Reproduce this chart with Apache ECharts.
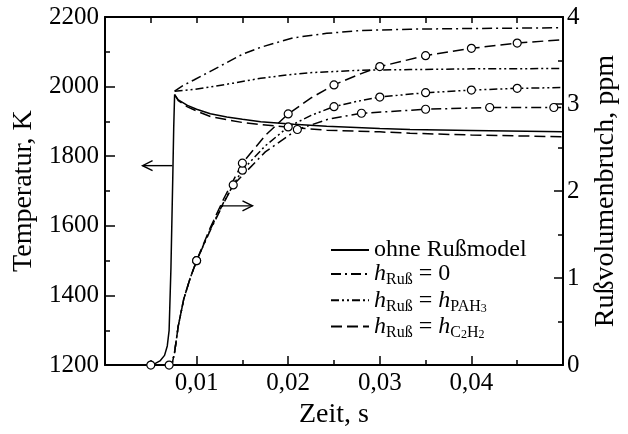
<!DOCTYPE html>
<html>
<head>
<meta charset="utf-8">
<script src="https://cdn.jsdelivr.net/npm/echarts@6/dist/echarts.min.js"></script>
<style>
  html, body { margin: 0; padding: 0; background: #fff; }
  #chart { width: 628px; height: 434px; }
</style>
</head>
<body>
<div id="chart"></div>
<script>
// Time in s, temperature in K (left axis), soot volume fraction in ppm (right axis)
const tempOhne = [
  [0, 1200], [0.0045, 1200], [0.005, 1202], [0.0055, 1205], [0.006, 1212], [0.0065, 1228],
  [0.0068, 1255], [0.007, 1300], [0.0072, 1480], [0.0074, 1740], [0.0075, 1880], [0.0076, 1977],
  [0.008, 1962], [0.009, 1946], [0.01, 1935], [0.0115, 1922], [0.0133, 1913], [0.015, 1906],
  [0.017, 1899], [0.0206, 1892], [0.0242, 1886], [0.03, 1880], [0.0333, 1877], [0.04, 1874], [0.05, 1870]
];
const tempH0 = [
  [0.0076, 1987], [0.0085, 2003], [0.0097, 2019], [0.0115, 2044], [0.0133, 2069], [0.015, 2093],
  [0.017, 2113], [0.0205, 2140], [0.0242, 2153], [0.0278, 2161], [0.0333, 2165], [0.04, 2167], [0.05, 2169]
];
const tempPAH = [
  [0.0076, 1987], [0.0097, 1992], [0.0115, 1999], [0.014, 2010], [0.017, 2024], [0.02, 2034],
  [0.0224, 2040], [0.0278, 2047], [0.0333, 2049], [0.04, 2051], [0.05, 2052]
];
const tempC2H2 = [
  [0.0076, 1977], [0.008, 1960], [0.009, 1942], [0.01, 1930], [0.0115, 1914], [0.0133, 1905],
  [0.015, 1897], [0.017, 1891], [0.0206, 1882], [0.0242, 1875], [0.03, 1870], [0.0333, 1866],
  [0.04, 1861], [0.05, 1856]
];

const sootH0 = [
  [0, 0], [0.007, 0], [0.0073, 0], [0.0076, 0.15], [0.008, 0.45], [0.0086, 0.76], [0.0093, 1.0],
  [0.01, 1.2], [0.0115, 1.55], [0.013, 1.87], [0.014, 2.07], [0.0175, 2.45], [0.021, 2.707],
  [0.0245, 2.83], [0.028, 2.894], [0.035, 2.94], [0.042, 2.96], [0.049, 2.96], [0.05, 2.96]
];
const sootPAH = [
  [0, 0], [0.005, 0], [0.0073, 0], [0.0076, 0.15], [0.008, 0.45], [0.0086, 0.76], [0.0093, 1.0],
  [0.01, 1.2], [0.0115, 1.56], [0.013, 1.88], [0.014, 2.07], [0.015, 2.24], [0.0175, 2.52],
  [0.02, 2.737], [0.0225, 2.87], [0.025, 2.97], [0.0275, 3.03], [0.03, 3.08], [0.035, 3.13],
  [0.04, 3.16], [0.045, 3.18], [0.05, 3.19]
];
const sootC2H2 = [
  [0, 0], [0.0073, 0], [0.0076, 0.15], [0.008, 0.45], [0.0086, 0.76], [0.0093, 1.0], [0.01, 1.2],
  [0.0115, 1.58], [0.013, 1.92], [0.014, 2.12], [0.015, 2.32], [0.0175, 2.64], [0.02, 2.886],
  [0.0225, 3.07], [0.025, 3.22], [0.0275, 3.33], [0.03, 3.43], [0.035, 3.556], [0.04, 3.64],
  [0.045, 3.70], [0.05, 3.74]
];

// times at which the soot curves carry an open circle
const marksH0 = [0.007, 0.014, 0.021, 0.028, 0.035, 0.042, 0.049];
const marksPAH = [0.005, 0.01, 0.015, 0.02, 0.025, 0.03, 0.035, 0.04, 0.045];
const marksC2H2 = [0.01, 0.015, 0.02, 0.025, 0.03, 0.035, 0.04, 0.045];

// axis-direction arrows: [x from, y from, x to, y to]
const arrowTemp = [[0.00736, 1773, 0.0041, 1773]];
const arrowSoot = [[0.0126, 1.83, 0.0161, 1.83]];

const names = ['ohne Rußmodel', 'h_Ruß = 0', 'h_Ruß = h_PAH3', 'h_Ruß = h_C2H2'];
const legendRich = {
  'ohne Rußmodel': '{n|ohne Rußmodel}',
  'h_Ruß = 0': '{it|h}{sub|Ruß}{n| = 0}',
  'h_Ruß = h_PAH3': '{it|h}{sub|Ruß}{n| = }{it|h}{sub|PAH}{sub2|3}',
  'h_Ruß = h_C2H2': '{it|h}{sub|Ruß}{n| = }{it|h}{sub|C}{sub2|2}{sub|H}{sub2|2}'
};

const FONT = '"Liberation Serif", "DejaVu Serif", serif';
const dashH0 = [10, 4, 2, 4];
const dashPAH = [8, 3, 2, 3, 2, 3];
const dashC2H2 = [11, 5];

function tempLine(name, data, type) {
  return {
    type: 'line', name, data, xAxisIndex: 0, yAxisIndex: 0,
    symbol: 'none', silent: true, z: 3,
    itemStyle: { color: '#000' },
    lineStyle: { color: '#000', width: 1.5, type }
  };
}
function sootLine(name, data, marks, type) {
  const items = data.map(p => marks.some(m => Math.abs(m - p[0]) < 1e-9)
    ? { value: p } : { value: p, symbol: 'none' });
  return {
    type: 'line', name, data: items, xAxisIndex: 0, yAxisIndex: 1,
    symbol: 'circle', symbolSize: 8, showSymbol: true, showAllSymbol: true, silent: true, z: 4,
    itemStyle: { color: '#fff', borderColor: '#000', borderWidth: 1.2 },
    lineStyle: { color: '#000', width: 1.5, type }
  };
}
function arrowSeries(data, yIdx) {
  return {
    type: 'custom', xAxisIndex: 0, yAxisIndex: yIdx, data, silent: true, z: 5,
    encode: { x: [0, 2], y: [1, 3] },
    renderItem(params, api) {
      const a = api.coord([api.value(0), api.value(1)]);
      const b = api.coord([api.value(2), api.value(3)]);
      const dir = Math.sign(b[0] - a[0]);
      const st = { stroke: '#000', lineWidth: 1.4, fill: null };
      return {
        type: 'group',
        children: [
          { type: 'line', shape: { x1: a[0], y1: a[1], x2: b[0], y2: b[1] }, style: st },
          { type: 'polyline', shape: { points: [[b[0] - dir * 10, b[1] - 5], [b[0], b[1]], [b[0] - dir * 10, b[1] + 5]] }, style: st }
        ]
      };
    }
  };
}

const axisCommon = {
  axisLine: { show: true, onZero: false, lineStyle: { color: '#000', width: 2 } },
  splitLine: { show: false },
  axisLabel: { color: '#000', fontFamily: FONT, fontSize: 25, formatter: v => String(v) },
  nameTextStyle: { color: '#000', fontFamily: FONT, fontSize: 28 }
};

const chart = echarts.init(document.getElementById('chart'), null, { renderer: 'canvas' });
chart.setOption({
  animation: false,
  backgroundColor: '#fff',
  grid: { left: 105, right: 64, top: 17, bottom: 59 },
  legend: {
    data: names, orient: 'vertical', left: 325, top: 233,
    itemWidth: 38, itemHeight: 14, itemGap: 0, itemTextGap: 13, selectedMode: false,
    itemStyle: { opacity: 0 },
    formatter: n => legendRich[n],
    textStyle: {
      color: '#000', fontFamily: FONT, fontSize: 24,
      rich: {
        n: { fontFamily: FONT, fontSize: 24, lineHeight: 28.5, color: '#000' },
        it: { fontFamily: FONT, fontSize: 24, lineHeight: 28.5, fontStyle: 'italic', color: '#000' },
        sub: { fontFamily: FONT, fontSize: 16, lineHeight: 16, verticalAlign: 'bottom', color: '#000' },
        sub2: { fontFamily: FONT, fontSize: 12, lineHeight: 8, verticalAlign: 'bottom', color: '#000' }
      }
    }
  },
  xAxis: [
    Object.assign({}, axisCommon, {
      type: 'value', min: 0, max: 0.05, interval: 0.01, position: 'bottom',
      name: 'Zeit, s', nameLocation: 'middle', nameGap: 22,
      axisTick: { show: true, inside: true, length: 9, lineStyle: { color: '#000', width: 1.5 } },
      minorTick: { show: true, splitNumber: 2, length: 5, lineStyle: { color: '#000', width: 1.5 } },
      axisLabel: Object.assign({}, axisCommon.axisLabel, {
        margin: 6,
        formatter: v => (v <= 0 || v >= 0.05 - 1e-9) ? '' : v.toFixed(2).replace('.', ',')
      })
    }),
    Object.assign({}, axisCommon, {
      type: 'value', min: 0, max: 0.05, interval: 0.005, position: 'top',
      axisTick: { show: true, inside: true, length: 6, lineStyle: { color: '#000', width: 1.5 } },
      axisLabel: { show: false }
    })
  ],
  yAxis: [
    Object.assign({}, axisCommon, {
      type: 'value', min: 1200, max: 2200, interval: 200, position: 'left',
      name: 'Temperatur, K', nameLocation: 'middle', nameGap: 60,
      axisTick: { show: true, inside: true, length: 10, lineStyle: { color: '#000', width: 1.5 } },
      minorTick: { show: true, splitNumber: 2, length: 5, lineStyle: { color: '#000', width: 1.5 } },
      axisLabel: Object.assign({}, axisCommon.axisLabel, { margin: 6 })
    }),
    Object.assign({}, axisCommon, {
      type: 'value', min: 0, max: 4, interval: 1, position: 'right',
      name: 'Rußvolumenbruch, ppm', nameLocation: 'middle', nameGap: 29,
      axisTick: { show: true, inside: true, length: 9, lineStyle: { color: '#000', width: 1.5 } },
      minorTick: { show: true, splitNumber: 2, length: 5, lineStyle: { color: '#000', width: 1.5 } },
      axisLabel: Object.assign({}, axisCommon.axisLabel, { margin: 4 })
    })
  ],
  series: [
    tempLine(names[0], tempOhne, 'solid'),
    tempLine(names[1], tempH0, dashH0),
    tempLine(names[2], tempPAH, dashPAH),
    tempLine(names[3], tempC2H2, dashC2H2),
    sootLine('fv ' + names[1], sootH0, marksH0, dashH0),
    sootLine('fv ' + names[2], sootPAH, marksPAH, dashPAH),
    sootLine('fv ' + names[3], sootC2H2, marksC2H2, dashC2H2),
    arrowSeries(arrowTemp, 0),
    arrowSeries(arrowSoot, 1)
  ]
});
</script>
</body>
</html>
